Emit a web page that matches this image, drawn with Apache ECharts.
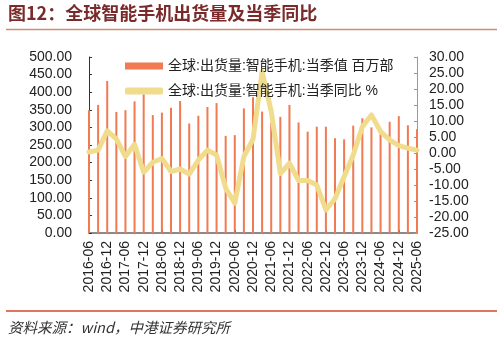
<!DOCTYPE html>
<html>
<head>
<meta charset="utf-8">
<script src="https://cdn.jsdelivr.net/npm/echarts@6/dist/echarts.min.js"></script>
<style>
  html, body { margin: 0; padding: 0; background: #fff; }
  #chart { width: 503px; height: 340px; }
</style>
</head>
<body>
<div id="chart"></div>
<script>
// Quarter-end labels, 2016-06 .. 2025-06
const quarters = [
  '2016-06','2016-09','2016-12','2017-03','2017-06','2017-09','2017-12','2018-03',
  '2018-06','2018-09','2018-12','2019-03','2019-06','2019-09','2019-12','2020-03',
  '2020-06','2020-09','2020-12','2021-03','2021-06','2021-09','2021-12','2022-03',
  '2022-06','2022-09','2022-12','2023-03','2023-06','2023-09','2023-12','2024-03',
  '2024-06','2024-09','2024-12','2025-03','2025-06'
];

// Global smartphone shipments per quarter (million units)
const shipments = [
  349, 364, 432, 344, 349, 374, 394, 335,
  342, 356, 375, 311, 333, 358, 369, 276,
  278, 354, 386, 345, 313, 330, 364, 314,
  288, 302, 302, 269, 266, 305, 326, 300,
  281, 316, 332, 306, 295
];

// Year-on-year change of quarterly shipments (%)
const yoy = [
  0.3, 0.9, 6.9, 4.4, -1.1, 2.7, -6.0, -2.9,
  -1.7, -5.8, -5.0, -6.6, -2.2, 0.9, -0.6, -11.0,
  -15.7, -1.1, 4.3, 25.4, 13.0, -6.4, -3.2, -8.6,
  -8.6, -10.0, -17.8, -14.3, -7.4, -0.6, 8.2, 11.9,
  6.7, 4.1, 2.3, 1.5, 0.9
];

const seriesNames = ['全球:出货量:智能手机:当季值 百万部', '全球:出货量:智能手机:当季同比 %'];
const titleText = '图12：全球智能手机出货量及当季同比';
const sourceText = '资料来源：wind，中港证券研究所';

const numFont = '"Liberation Sans", Arial, sans-serif';
const cjkFont = '"Liberation Sans", "Noto Sans CJK SC", sans-serif';

const chart = echarts.init(document.getElementById('chart'), null, { renderer: 'canvas' });

chart.setOption({
  animation: false,
  backgroundColor: '#ffffff',
  grid: { left: 89, right: 86, top: 57, bottom: 107, containLabel: false },
  legend: {
    orient: 'vertical',
    left: 120,
    top: 54,
    itemWidth: 38,
    itemHeight: 7,
    itemGap: 11,
    textStyle: { fontSize: 14, color: '#222', fontFamily: cjkFont },
    data: [
      { name: seriesNames[0], icon: 'rect' },
      { name: seriesNames[1], icon: 'roundRect' }
    ]
  },
  xAxis: {
    type: 'category',
    data: quarters,
    boundaryGap: false,
    axisLine: { show: true, lineStyle: { color: '#8a8a8a', width: 2 } },
    axisTick: { show: true, inside: true, length: 3, interval: 1, lineStyle: { color: '#333' } },
    axisLabel: {
      interval: 1,
      rotate: 90,
      margin: 8,
      fontSize: 14,
      color: '#222',
      fontFamily: numFont
    },
    splitLine: { show: false }
  },
  yAxis: [
    {
      type: 'value',
      min: 0,
      max: 500,
      interval: 50,
      axisLine: { show: true, lineStyle: { color: '#333', width: 1 } },
      axisTick: { show: true, inside: true, length: 3, lineStyle: { color: '#333' } },
      axisLabel: {
        margin: 17,
        fontSize: 14,
        color: '#222',
        fontFamily: numFont,
        formatter: v => v.toFixed(2)
      },
      splitLine: { show: false }
    },
    {
      type: 'value',
      min: -25,
      max: 30,
      interval: 5,
      position: 'right',
      axisLine: { show: true, lineStyle: { color: '#999', width: 1 } },
      axisTick: { show: true, inside: true, length: 3, lineStyle: { color: '#999' } },
      axisLabel: {
        margin: 12,
        fontSize: 14,
        color: '#222',
        fontFamily: numFont,
        formatter: v => v.toFixed(2)
      },
      splitLine: { show: false }
    }
  ],
  series: [
    {
      name: seriesNames[0],
      type: 'bar',
      data: shipments,
      barWidth: 2,
      itemStyle: { color: '#F07A52' },
      z: 2
    },
    {
      name: seriesNames[1],
      type: 'line',
      yAxisIndex: 1,
      data: yoy,
      symbol: 'none',
      smooth: false,
      lineStyle: { color: '#F0DC8C', width: 5, cap: 'round', join: 'round' },
      itemStyle: { color: '#F0DC8C' },
      z: 3
    }
  ],
  graphic: [
    {
      type: 'text',
      left: 8,
      top: 4,
      style: {
        text: titleText,
        fontSize: 18,
        fontWeight: 'bold',
        fill: '#7A2A2A',
        fontFamily: '"Noto Sans CJK SC", "Liberation Sans", sans-serif'
      }
    },
    {
      type: 'line',
      shape: { x1: 6, y1: 29.5, x2: 497, y2: 29.5 },
      style: { stroke: '#D38C7A', lineWidth: 1.5 }
    },
    {
      type: 'line',
      shape: { x1: 6, y1: 311, x2: 497, y2: 311 },
      style: { stroke: '#D24A2C', lineWidth: 1.5 }
    },
    {
      type: 'text',
      left: 8,
      top: 320,
      style: {
        text: sourceText,
        fontSize: 14.5,
        fontStyle: 'italic',
        fill: '#333',
        fontFamily: '"Noto Sans CJK SC", "Liberation Sans", sans-serif'
      }
    }
  ]
});
</script>
</body>
</html>
